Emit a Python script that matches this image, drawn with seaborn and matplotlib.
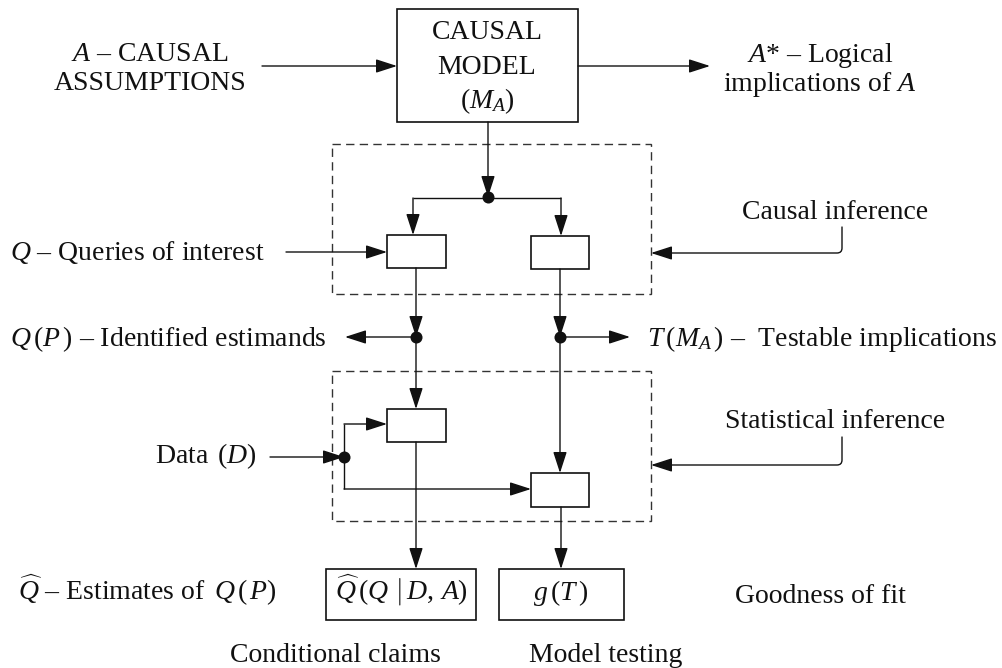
import matplotlib
matplotlib.use("Agg")
import matplotlib.pyplot as plt
from matplotlib.patches import Rectangle, FancyArrowPatch
import seaborn as sns
import pandas as pd

# ---- diagram content -------------------------------------------------
model_lines = ["CAUSAL", "MODEL", r"$(M_A)$"]
left_labels = [r"$A$ – CAUSAL", "ASSUMPTIONS"]
right_labels = [r"$A$* – Logical", r"implications of $A$"]
query_label = r"$Q$ – Queries of interest"
estimand_label = r"$Q\,(P\,)$ – Identified estimands"
testable_label = r"$T\,(M_A\,)$ –  Testable implications"
data_label = r"Data $\,(D)$"
estimate_label = r"$\widehat{Q}$ – Estimates of $\,Q\,(\,P)$"
estimate_box_label = r"$\widehat{Q}\,(Q\,\mid D,\,A)$"
fit_box_label = r"$g\,(T\,)$"
inference_labels = ["Causal inference", "Statistical inference"]
fit_label = "Goodness of fit"
bottom_labels = ["Conditional claims", "Model testing"]

# junction dots
dot_x = [488, 416, 560, 344]
dot_y = [197, 337, 337, 457]

sns.set_theme(style="white")
plt.rcParams["font.family"] = ["Liberation Serif", "DejaVu Serif"]
plt.rcParams["mathtext.fontset"] = "custom"
plt.rcParams["mathtext.rm"] = "Liberation Serif"
plt.rcParams["mathtext.it"] = "Liberation Serif:italic"
plt.rcParams["mathtext.bf"] = "Liberation Serif:bold"

FS = 20
INK = "#111111"

fig = plt.figure(figsize=(10.02, 6.68), dpi=100)
ax = fig.add_axes([0, 0, 1, 1])
ax.set_xlim(0, 1002)
ax.set_ylim(668, 0)
ax.axis("off")


def arrow(p0, p1):
    ax.annotate("", xy=p1, xytext=p0,
                arrowprops=dict(arrowstyle="-|>,head_length=1.3,head_width=0.42",
                                mutation_scale=10, color=INK, lw=1.0,
                                shrinkA=0, shrinkB=0))


def line(xs, ys):
    ax.plot(xs, ys, color=INK, lw=1.0, solid_capstyle="butt")


def box(x, y, w, h, dashed=False):
    if dashed:
        ax.add_patch(Rectangle((x, y), w, h, fill=False, ec="#333333", lw=1.0,
                               ls=(0, (6, 3.8))))
    else:
        ax.add_patch(Rectangle((x, y), w, h, fill=False, ec=INK, lw=1.2))


def label(x, y, s, ha="center"):
    ax.text(x, y, s, fontsize=FS, ha=ha, va="baseline", color=INK)


# dashed regions
box(332, 144, 319, 150, dashed=True)
box(332, 371, 319, 150, dashed=True)

# boxes
box(397, 9, 181, 113)
box(387, 235, 59, 33)
box(531, 236, 58, 33)
box(387, 409, 59, 33)
box(531, 473, 58, 34)
box(326, 569, 150, 51)
box(499, 569, 125, 51)

# causal model text
for s, yb in zip(model_lines, [39, 74, 108]):
    label(487, yb, s)
for s, yb in zip(left_labels, [61, 90]):
    label(150, yb, s)
for s, yb in zip(right_labels, [62, 91]):
    label(820, yb, s)

# top arrows
arrow((262, 66), (397, 66))
arrow((578, 66), (710, 66))
arrow((488, 122), (488, 197))

# split to the two inference boxes
line([413, 561], [198, 198])
arrow((413, 198), (413, 235))
arrow((561, 198), (561, 236))
arrow((286, 252), (387, 252))
label(10, 260, query_label, ha="left")

# outputs of causal inference
arrow((416, 268), (416, 337))
arrow((416, 337), (345, 337))
arrow((560, 269), (560, 337))
arrow((560, 337), (630, 337))
label(10, 346, estimand_label, ha="left")
label(647, 346, testable_label, ha="left")

# statistical inference
arrow((416, 337), (416, 409))
arrow((560, 337), (560, 473))
arrow((270, 457), (344, 457))
line([344, 344], [457, 424])
arrow((344, 424), (387, 424))
line([344, 344], [457, 489])
arrow((344, 489), (531, 489))
label(155, 463, data_label, ha="left")

# to the result boxes
arrow((416, 442), (416, 569))
arrow((561, 507), (561, 569))

# callouts
for (x0, y0, x1, y1), s, yb in zip([(842, 227, 651, 253), (842, 437, 651, 465)],
                                   inference_labels, [219, 428]):
    ax.add_patch(FancyArrowPatch((x0, y0), (x1, y1),
                                 connectionstyle="angle,angleA=90,angleB=0,rad=5",
                                 arrowstyle="-|>,head_length=1.3,head_width=0.42",
                                 mutation_scale=10, color=INK, lw=1.0,
                                 shrinkA=0, shrinkB=0))
    label(835, yb, s)

# junction dots
dots = pd.DataFrame({"x": dot_x, "y": dot_y})
sns.scatterplot(data=dots, x="x", y="y", s=75, color=INK, edgecolor=INK,
                linewidth=0, ax=ax, legend=False, zorder=5)
ax.set_xlim(0, 1002)
ax.set_ylim(668, 0)
ax.axis("off")

# bottom row
label(18, 600, estimate_label, ha="left")
label(401, 600, estimate_box_label)
label(561, 600, fit_box_label)
label(820, 603, fit_label)
label(335, 662, bottom_labels[0])
label(606, 662, bottom_labels[1])

fig.savefig("out.png", dpi=100, facecolor="white")
plt.close(fig)
